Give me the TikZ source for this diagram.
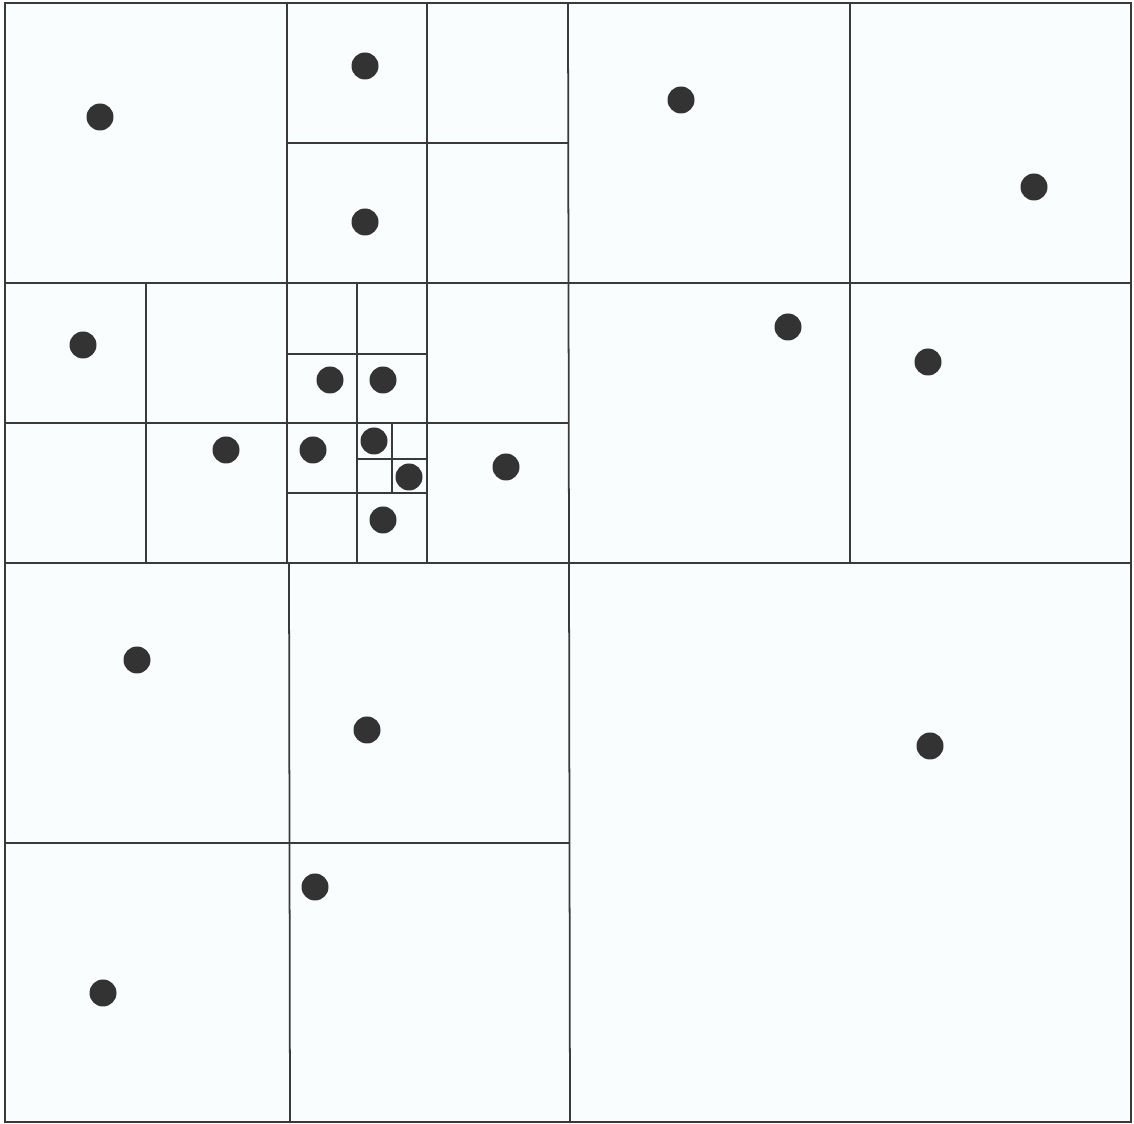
\documentclass[tikz,border=0pt]{standalone}
\usetikzlibrary{calc}

\definecolor{linegray}{HTML}{3A3A3A}
\definecolor{dotgray}{HTML}{333333}
\definecolor{paper}{HTML}{FAFDFE}

\begin{document}
\begin{tikzpicture}[x=0.02cm, y=-0.02cm]
  \useasboundingbox (0,0) rectangle (1134,1124);

  % corners of the whole square
  \coordinate (NW) at (5, 3);
  \coordinate (SE) at (1131, 1122);

  % background of the square
  \fill[paper] (NW) rectangle (SE);

  % first split: four quadrants
  \draw[line width=1.2pt, linegray] (NW) rectangle (SE);
  \draw[line width=1pt, linegray] (568, 3) -- (570, 1122);
  \draw[line width=1pt, linegray] (5, 563) -- (1131, 563);

  % upper left quadrant
  \draw[line width=1pt, linegray] (287, 3) -- (287, 563);
  \draw[line width=1pt, linegray] (5, 283) -- (568, 283);

  % its upper right part
  \draw[line width=1pt, linegray] (427, 3) -- (427, 283);
  \draw[line width=1pt, linegray] (287, 143) -- (568, 143);

  % its lower left part
  \draw[line width=1pt, linegray] (146, 283) -- (146, 563);
  \draw[line width=1pt, linegray] (5, 423) -- (287, 423);

  % its lower right part
  \draw[line width=1pt, linegray] (427, 283) -- (427, 563);
  \draw[line width=1pt, linegray] (287, 423) -- (568, 423);
  \draw[line width=1pt, linegray] (357, 283) -- (357, 563);
  \draw[line width=1pt, linegray] (287, 354) -- (427, 354);
  \draw[line width=1pt, linegray] (287, 493) -- (427, 493);

  % the smallest cells
  \draw[line width=1pt, linegray] (392, 423) -- (392, 493);
  \draw[line width=1pt, linegray] (357, 459) -- (427, 459);

  % upper right quadrant
  \draw[line width=1pt, linegray] (850, 3) -- (850, 563);
  \draw[line width=1pt, linegray] (568, 283) -- (1131, 283);

  % lower left quadrant
  \draw[line width=1pt, linegray] (289, 563) -- (290, 1122);
  \draw[line width=1pt, linegray] (5, 843) -- (570, 843);

  % Points
  \fill[dotgray] (100, 117) circle (13.5);
  \fill[dotgray] (365, 66) circle (13.5);
  \fill[dotgray] (365, 222) circle (13.5);
  \fill[dotgray] (681, 100) circle (13.5);
  \fill[dotgray] (1034, 187) circle (13.5);

  \fill[dotgray] (83, 345) circle (13.5);
  \fill[dotgray] (226, 450) circle (13.5);
  \fill[dotgray] (330, 380) circle (13.5);
  \fill[dotgray] (383, 380) circle (13.5);
  \fill[dotgray] (313, 450) circle (13.5);
  \fill[dotgray] (374, 441) circle (13.5);
  \fill[dotgray] (409, 477) circle (13.5);
  \fill[dotgray] (383, 520) circle (13.5);
  \fill[dotgray] (506, 467) circle (13.5);
  \fill[dotgray] (788, 327) circle (13.5);
  \fill[dotgray] (928, 362) circle (13.5);

  \fill[dotgray] (137, 660) circle (13.5);
  \fill[dotgray] (367, 730) circle (13.5);
  \fill[dotgray] (930, 746) circle (13.5);
  \fill[dotgray] (315, 887) circle (13.5);
  \fill[dotgray] (103, 993) circle (13.5);

\end{tikzpicture}
\end{document}
